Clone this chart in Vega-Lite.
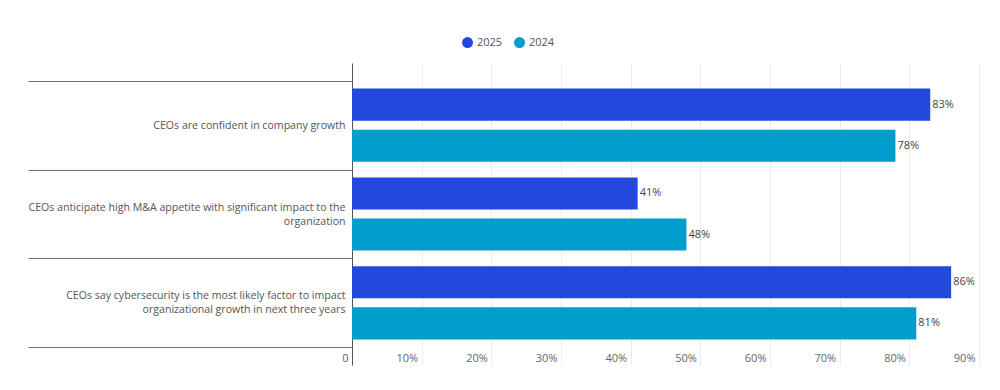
{
  "$schema": "https://vega.github.io/schema/vega-lite/v6.json",
  "width": 627,
  "height": 302,
  "autosize": {"type": "none"},
  "padding": {"left": 352, "top": 63, "right": 21, "bottom": 25},
  "config": {"view": {"stroke": null}, "font": "Open Sans"},
  "data": {
    "values": [
      {"statement": "CEOs are confident in company growth", "year": "2025", "value": 0.83},
      {"statement": "CEOs are confident in company growth", "year": "2024", "value": 0.78},
      {"statement": "CEOs anticipate high M&A appetite with significant impact to the organization", "year": "2025", "value": 0.41},
      {"statement": "CEOs anticipate high M&A appetite with significant impact to the organization", "year": "2024", "value": 0.48},
      {"statement": "CEOs say cybersecurity is the most likely factor to impact organizational growth in next three years", "year": "2025", "value": 0.86},
      {"statement": "CEOs say cybersecurity is the most likely factor to impact organizational growth in next three years", "year": "2024", "value": 0.81}
    ]
  },
  "encoding": {
    "y": {
      "field": "statement",
      "type": "nominal",
      "sort": null,
      "scale": {"paddingInner": 0, "paddingOuter": 0.2},
      "axis": {
        "title": null,
        "tickBand": "extent",
        "tickSize": 324,
        "tickColor": "#6e6e6e",
        "tickWidth": 1,
        "domainColor": "#555555",
        "labelPadding": -317,
        "labelFontSize": 10.6,
        "labelColor": "#555555",
        "labelLimit": 400,
        "labelLineHeight": 14,
        "labelBaseline": {"condition": {"test": "datum.value == 'CEOs are confident in company growth'", "value": "middle"}, "value": "line-bottom"},
        "labelExpr": "datum.label == 'CEOs anticipate high M&A appetite with significant impact to the organization' ? ['CEOs anticipate high M&A appetite with significant impact to the', 'organization'] : datum.label == 'CEOs say cybersecurity is the most likely factor to impact organizational growth in next three years' ? ['CEOs say cybersecurity is the most likely factor to impact', 'organizational growth in next three years'] : datum.label",
        "grid": false
      }
    },
    "yOffset": {
      "field": "year",
      "sort": ["2025", "2024"],
      "scale": {"paddingInner": 0.22, "paddingOuter": 0.19}
    },
    "x": {
      "field": "value",
      "type": "quantitative",
      "scale": {"domain": [0, 0.9], "nice": false},
      "axis": {
        "title": null,
        "values": [0, 0.1, 0.2, 0.3, 0.4, 0.5, 0.6, 0.7, 0.8, 0.9],
        "labelExpr": "datum.value == 0 ? '0' : format(datum.value, '.0%')",
        "grid": true,
        "gridColor": "#ebebeb",
        "ticks": false,
        "domain": false,
        "labelAlign": "right",
        "labelOffset": -4,
        "labelPadding": -13,
        "labelBaseline": "top",
        "labelFontSize": 11,
        "labelColor": "#666666",
        "labelFlush": false,
        "labelOverlap": false
      }
    }
  },
  "layer": [
    {
      "mark": {"type": "bar"},
      "encoding": {
        "color": {
          "field": "year",
          "type": "nominal",
          "sort": ["2025", "2024"],
          "scale": {"domain": ["2025", "2024"], "range": ["#2348de", "#019dcc"]},
          "legend": {
            "title": null,
            "orient": "none",
            "legendX": 110,
            "legendY": -26,
            "direction": "horizontal",
            "symbolType": "circle",
            "symbolSize": 120,
            "symbolStrokeWidth": 0,
            "labelFontSize": 11,
            "labelColor": "#555555",
            "columnPadding": 11
          }
        }
      }
    },
    {
      "mark": {"type": "text", "align": "left", "baseline": "middle", "dx": 2, "fontSize": 11, "color": "#444444"},
      "encoding": {
        "text": {"field": "value", "type": "quantitative", "format": ".0%"}
      }
    }
  ]
}
